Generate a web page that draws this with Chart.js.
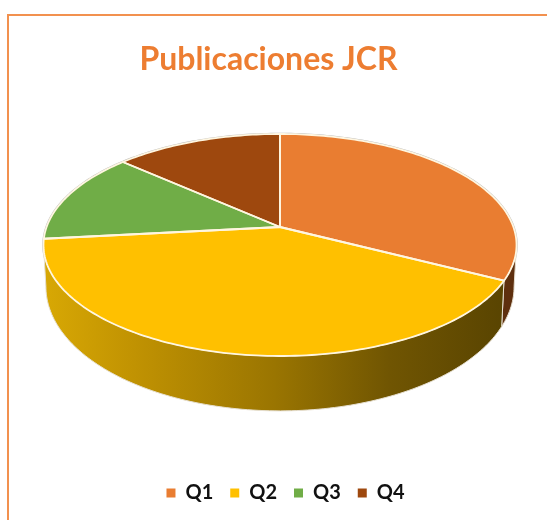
<!DOCTYPE html>
<html>
<head>
<meta charset="utf-8">
<title>Publicaciones JCR</title>
<script src="https://cdn.jsdelivr.net/npm/chart.js@4"></script>
<style>
  html, body { margin: 0; padding: 0; background: #fff; }
  #frame { position: absolute; left: 7px; top: 14px; right: 0; bottom: 0; border-top: 2px solid #F2914F; border-left: 2px solid #F2914F; }
  #chart { position: absolute; left: 0; top: 0; }
</style>
</head>
<body>
<div id="frame"></div>
<canvas id="chart" width="547" height="520"></canvas>
<script>
var categories = ["Q1", "Q2", "Q3", "Q4"];
var publicaciones = [32.6, 40.7, 13.3, 13.4];
var colores = ["#E97D31", "#FFC000", "#70AD47", "#9E480E"];

// perspective of the disc (the pie is tilted, the hub sits above the ellipse centre)
var cx = 280, tilt = 0.162;
var top3d = { hub: 227, ax: 233.4, ay: 108.1 };
var bottom3d = { hub: 266.5, ax: 231, ay: 121 };

function proj(p, a) {
  var w = 1 - tilt * Math.sin(a);
  return [cx + p.ax * Math.cos(a) / w, p.hub + p.ay * Math.sin(a) / w];
}

function rim(ctx, p, a0, a1) {
  var n = Math.max(2, Math.ceil(Math.abs(a1 - a0) / 0.02));
  for (var i = 0; i <= n; i++) {
    var q = proj(p, a0 + (a1 - a0) * i / n);
    ctx.lineTo(q[0], q[1]);
  }
}

var pie3d = {
  id: "pie3d",
  afterLayout: function(chart) {
    // title is left of the legend in the original
    chart.titleBlock.left -= 17;
    chart.titleBlock.right -= 17;
  },
  beforeDatasetsDraw: function(chart) {
    var ctx = chart.ctx;
    var arcs = chart.getDatasetMeta(0).data;
    var edge = Math.asin(tilt); // where the outline turns from top face to wall
    var i;
    ctx.save();
    ctx.lineJoin = "round";

    // grey edge round the back
    ctx.beginPath();
    rim(ctx, top3d, 0, Math.PI * 2);
    ctx.closePath();
    ctx.strokeStyle = "#bdbdbd";
    ctx.lineWidth = 2.5;
    ctx.stroke();

    // walls, only the front half can be seen
    var grad = ctx.createLinearGradient(44, 0, 505, 0);
    grad.addColorStop(0, "#D8A804");
    grad.addColorStop(0.2, "#C09202");
    grad.addColorStop(0.5, "#9A7501");
    grad.addColorStop(0.75, "#705502");
    grad.addColorStop(1, "#594401");
    var walls = [ "#5E2F0E", grad, "#4a6e2f", "#5E2F0E" ];
    for (i = 0; i < arcs.length; i++) {
      var a0 = Math.max(arcs[i].startAngle, edge);
      var a1 = Math.min(arcs[i].endAngle, Math.PI - edge);
      if (a1 <= a0) continue;
      ctx.beginPath();
      rim(ctx, top3d, a0, a1);
      rim(ctx, bottom3d, a1, a0);
      ctx.closePath();
      ctx.fillStyle = walls[i];
      ctx.fill();
      ctx.strokeStyle = "#e6dfd0";
      ctx.lineWidth = 1;
      ctx.stroke();
    }

    // top face
    for (i = 0; i < arcs.length; i++) {
      ctx.beginPath();
      ctx.moveTo(cx, top3d.hub);
      rim(ctx, top3d, arcs[i].startAngle, arcs[i].endAngle);
      ctx.closePath();
      ctx.fillStyle = arcs[i].options.backgroundColor;
      ctx.fill();
    }
    for (i = 0; i < arcs.length; i++) {
      ctx.beginPath();
      ctx.moveTo(cx, top3d.hub);
      rim(ctx, top3d, arcs[i].startAngle, arcs[i].endAngle);
      ctx.closePath();
      ctx.strokeStyle = "#FFF6E0";
      ctx.lineWidth = 1.8;
      ctx.stroke();
    }

    ctx.restore();
    return false;
  }
};

var pieChart = new Chart(document.getElementById("chart"), {
  type: "pie",
  plugins: [pie3d],
  data: {
    labels: categories,
    datasets: [{
      data: publicaciones,
      backgroundColor: colores,
      borderWidth: 0
    }]
  },
  options: {
    responsive: false,
    animation: false,
    layout: { padding: { left: 24, right: 0, top: 0, bottom: 7 } },
    plugins: {
      title: {
        display: true,
        text: "Publicaciones JCR",
        color: "#ED7D31",
        font: { family: "Lato", size: 32, weight: "bold" },
        padding: { top: 40, bottom: 20 }
      },
      legend: {
        position: "bottom",
        labels: {
          color: "#111",
          font: { family: "Lato", size: 20, weight: "bold" },
          boxWidth: 9,
          boxHeight: 9,
          padding: 17
        }
      },
      tooltip: { enabled: false }
    }
  }
});
</script>
</body>
</html>
